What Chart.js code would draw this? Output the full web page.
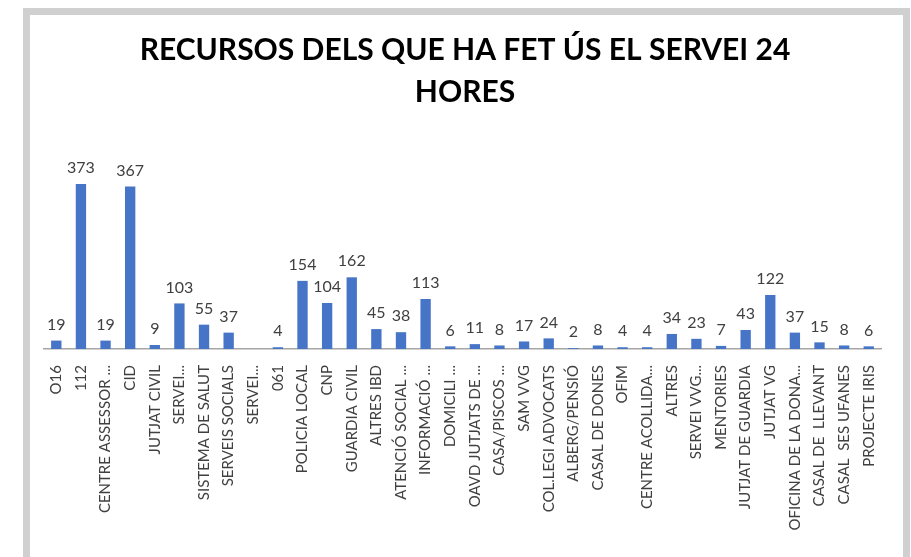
<!DOCTYPE html>
<html>
<head>
<meta charset="utf-8">
<script src="https://cdn.jsdelivr.net/npm/chart.js@4/dist/chart.umd.min.js"></script>
<style>
  html, body { margin: 0; padding: 0; background: #ffffff; }
  body { width: 911px; height: 557px; overflow: hidden; position: relative; }
  .frame {
    position: absolute; left: 23px; top: 8px;
    width: 873px; height: 560px;
    border: 7px solid #d0d0d0; border-bottom: none;
    background: #ffffff;
  }
  .wrap { position: absolute; left: 0; top: 0; width: 873px; height: 542px; }
</style>
</head>
<body>
<div class="frame"><div class="wrap"><canvas id="chart"></canvas></div></div>
<script>
// --- Data ---
const titleLines = ['RECURSOS DELS QUE HA FET ÚS EL SERVEI 24', 'HORES'];

const categories = [
  'O16', '112', 'CENTRE ASSESSOR ...', 'CID', 'JUTJAT CIVIL', 'SERVEI...',
  'SISTEMA DE SALUT', 'SERVEIS SOCIALS', 'SERVEI...', '061', 'POLICIA LOCAL',
  'CNP', 'GUARDIA CIVIL', 'ALTRES IBD', 'ATENCIÓ SOCIAL ...', 'INFORMACIÓ ...',
  'DOMICILI ...', 'OAVD JUTJATS DE ...', 'CASA/PISCOS ...', 'SAM VVG',
  'COL.LEGI ADVOCATS', 'ALBERG/PENSIÓ', 'CASAL DE DONES', 'OFIM',
  'CENTRE ACOLLIDA...', 'ALTRES', 'SERVEI VVG...', 'MENTORIES',
  'JUTJAT DE GUARDIA', 'JUTJAT VG', 'OFICINA DE LA DONA...', 'CASAL DE  LLEVANT',
  'CASAL  SES UFANES', 'PROJECTE IRIS'
];

const values = [
  19, 373, 19, 367, 9, 103,
  55, 37, null, 4, 154,
  104, 162, 45, 38, 113,
  6, 11, 8, 17,
  24, 2, 8, 4,
  4, 34, 23, 7,
  43, 122, 37, 15,
  8, 6
];

// --- Value labels above bars ---
const barValueLabels = {
  id: 'barValueLabels',
  afterDatasetsDraw(chart) {
    const ctx = chart.ctx;
    const meta = chart.getDatasetMeta(0);
    ctx.save();
    ctx.font = '16px Lato, "Open Sans", sans-serif';
    ctx.fillStyle = '#404040';
    ctx.textAlign = 'center';
    ctx.textBaseline = 'bottom';
    meta.data.forEach((bar, i) => {
      const v = values[i];
      if (v === null || v === undefined) return;
      ctx.fillText(String(v), bar.x, bar.y - 8);
    });
    ctx.restore();
  }
};

const ctx = document.getElementById('chart').getContext('2d');
new Chart(ctx, {
  type: 'bar',
  data: {
    labels: categories,
    datasets: [{
      data: values,
      backgroundColor: '#4674C6',
      borderWidth: 0,
      barPercentage: 0.42,
      categoryPercentage: 1.0
    }]
  },
  options: {
    responsive: true,
    maintainAspectRatio: false,
    animation: false,
    layout: { padding: { left: 14, right: 17, top: 0, bottom: 0 } },
    plugins: {
      legend: { display: false },
      tooltip: { enabled: false },
      title: {
        display: true,
        text: titleLines,
        color: '#000000',
        font: { family: 'Lato, "Open Sans", sans-serif', size: 30, weight: 'bold', lineHeight: 1.4 },
        padding: { top: 14, bottom: 59 }
      }
    },
    scales: {
      y: {
        display: false,
        min: 0,
        max: 400
      },
      x: {
        grid: { display: false, drawTicks: false },
        border: { display: true, color: '#a6a6a6', width: 1.5 },
        afterFit: (scale) => { scale.height = 208; },
        ticks: {
          autoSkip: false,
          minRotation: 90,
          maxRotation: 90,
          padding: 16,
          color: '#404040',
          font: { family: 'Lato, "Open Sans", sans-serif', size: 15 }
        }
      }
    }
  },
  plugins: [barValueLabels]
});
</script>
</body>
</html>
